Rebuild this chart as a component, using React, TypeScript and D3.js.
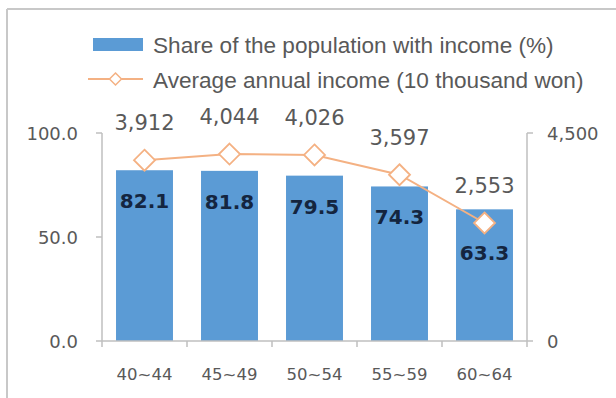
import React from "react";
import * as d3 from "d3";

const categories = ["40~44", "45~49", "50~54", "55~59", "60~64"];
const shareValues = [82.1, 81.8, 79.5, 74.3, 63.3];
const incomeValues = [3912, 4044, 4026, 3597, 2553];
const leftTicks = [0, 50, 100];
const rightTicks = [0, 4500];
const legendLabels = ["Share of the population with income (%)", "Average annual income (10 thousand won)"];

const W = 616, H = 398;
const M = { left: 102, right: 527, top: 133, bottom: 341 };
const BAR = "#5B9BD5";
const LINE = "#F4B183";
const AXIS = "#BFBFBF";
const TXT = "#595959";
const NFONT = "'DejaVu Sans', sans-serif";
const LFONT = "'Liberation Sans', Arial, sans-serif";

export default function App() {
  const x = d3.scaleBand<string>().domain(categories).range([M.left, M.right]).paddingInner(0.33).paddingOuter(0.165);
  const xb = d3.scaleBand<string>().domain(categories).range([M.left, M.right]);
  const yL = d3.scaleLinear().domain([0, 100]).range([M.bottom, M.top]);
  const yR = d3.scaleLinear().domain([0, 4500]).range([M.bottom, M.top]);
  const cx = (c: string) => (xb(c) as number) + xb.bandwidth() / 2;
  const line = d3.line<number>().x((_, i) => cx(categories[i])).y((d) => yR(d));
  const diamond = (px: number, py: number, r: number) =>
    `M${px},${py - r}L${px + r},${py}L${px},${py + r}L${px - r},${py}Z`;

  return (
    <svg width={W} height={H} style={{ position: "absolute", left: 0, top: 0, background: "#fff" }}>
      {/* frame */}
      <line x1={7} y1={9} x2={W} y2={9} stroke="#C8C8C8" strokeWidth={2} />
      <line x1={7} y1={9} x2={7} y2={H} stroke="#C8C8C8" strokeWidth={2} />

      {/* legend */}
      <rect x={93} y={38} width={50} height={13} fill={BAR} />
      <text x={153} y={45} dominantBaseline="central" fontFamily={LFONT} fontSize={22.6} fill={TXT}>{legendLabels[0]}</text>
      <line x1={88} y1={79} x2={143} y2={79} stroke={LINE} strokeWidth={2} />
      <path d={diamond(115.5, 79, 6)} fill="#fff" stroke={LINE} strokeWidth={1.5} />
      <text x={153} y={80} dominantBaseline="central" fontFamily={LFONT} fontSize={22.6} fill={TXT}>{legendLabels[1]}</text>

      {/* bars */}
      {categories.map((c, i) => (
        <rect key={c} x={x(c)} y={yL(shareValues[i])} width={x.bandwidth()} height={M.bottom - yL(shareValues[i])} fill={BAR} />
      ))}

      {/* axes */}
      <line x1={M.left} y1={M.top} x2={M.left} y2={M.bottom} stroke={AXIS} strokeWidth={1.5} />
      <line x1={M.right} y1={M.top} x2={M.right} y2={M.bottom} stroke={AXIS} strokeWidth={1.5} />
      <line x1={M.left} y1={M.bottom} x2={M.right} y2={M.bottom} stroke={AXIS} strokeWidth={1.5} />
      {leftTicks.map((t) => (
        <g key={"l" + t}>
          <line x1={M.left - 6} x2={M.left} y1={yL(t)} y2={yL(t)} stroke={AXIS} strokeWidth={1.5} />
          <text x={M.left - 24} y={yL(t)} textAnchor="end" dominantBaseline="central" fontFamily={NFONT} fontSize={18} fill={TXT}>{t.toFixed(1)}</text>
        </g>
      ))}
      {rightTicks.map((t) => (
        <g key={"r" + t}>
          <line x1={M.right} x2={M.right + 6} y1={yR(t)} y2={yR(t)} stroke={AXIS} strokeWidth={1.5} />
          <text x={M.right + 20} y={yR(t)} textAnchor="start" dominantBaseline="central" fontFamily={NFONT} fontSize={18} fill={TXT}>{d3.format(",")(t)}</text>
        </g>
      ))}
      {categories.map((c, i) => (
        <g key={"xt" + c}>
          <line x1={xb(c) as number} x2={xb(c) as number} y1={M.bottom} y2={M.bottom + 6} stroke={AXIS} strokeWidth={1.5} />
          {i === categories.length - 1 && (
            <line x1={M.right} x2={M.right} y1={M.bottom} y2={M.bottom + 6} stroke={AXIS} strokeWidth={1.5} />
          )}
          <text x={cx(c)} y={374} textAnchor="middle" dominantBaseline="central" fontFamily={NFONT} fontSize={16.5} fill={TXT}>{c}</text>
        </g>
      ))}

      {/* line + markers */}
      <path d={line(incomeValues) as string} fill="none" stroke={LINE} strokeWidth={2} />
      {incomeValues.map((v, i) => (
        <path key={"d" + i} d={diamond(cx(categories[i]), yR(v), 10.5)} fill="#fff" stroke={LINE} strokeWidth={1.8} />
      ))}

      {/* labels */}
      {incomeValues.map((v, i) => (
        <text key={"il" + i} x={cx(categories[i])} y={yR(v) - 37} textAnchor="middle" dominantBaseline="central" fontFamily={NFONT} fontSize={21} fill={TXT}>{d3.format(",")(v)}</text>
      ))}
      {shareValues.map((v, i) => {
        const top = yL(v);
        const dy = yR(incomeValues[i]);
        const ly = dy > top ? dy + 30 : top + 31;
        return (
          <text key={"sl" + i} x={cx(categories[i])} y={ly} textAnchor="middle" dominantBaseline="central" fontFamily={NFONT} fontWeight="bold" fontSize={20} fill="#14253F">{v.toFixed(1)}</text>
        );
      })}
    </svg>
  );
}
